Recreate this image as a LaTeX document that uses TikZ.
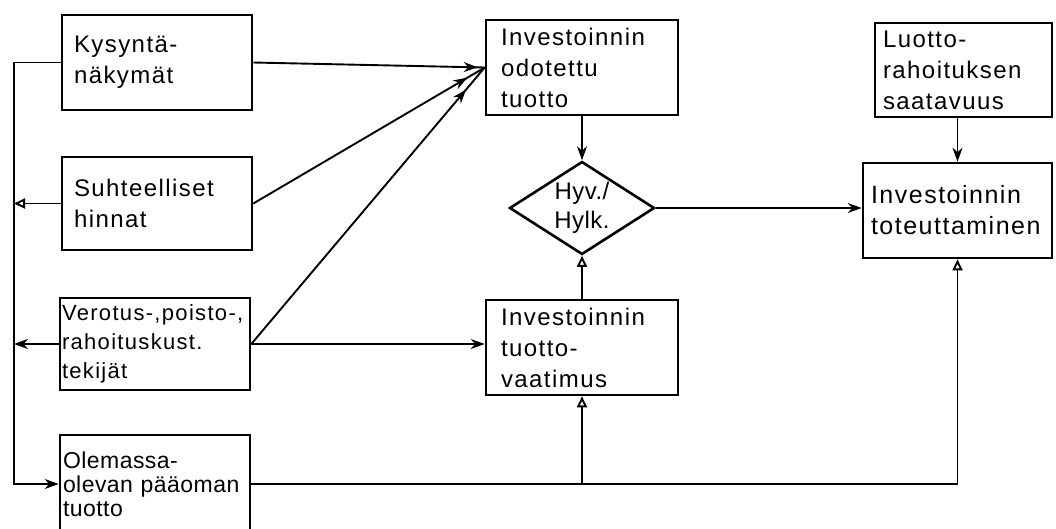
\documentclass[tikz,border=0pt]{standalone}
\usepackage{fontspec}
\newfontfamily\lab[LetterSpace=6]{Liberation Sans}
\newfontfamily\labn[LetterSpace=2]{Liberation Sans}
\usetikzlibrary{arrows.meta,shapes.geometric,decorations.markings}

\begin{document}
\begin{tikzpicture}[x=1pt,y=-1pt,>={Stealth[length=14pt,width=10pt]},
    box/.style={draw,rectangle,line width=2.6pt,inner xsep=12pt,inner ysep=0pt,
      minimum height=95pt,text width=166pt,align=left,
      font=\lab\fontsize{24}{31}\selectfont},
    link/.style={line width=1.9pt},
    open/.style={-{Triangle[open,length=11pt,width=10pt]}},
    tipat/.style={postaction={decorate},decoration={markings,
      mark=at position #1 with {\arrow{>}}}}]

  \clip (0,0) rectangle (1056,528);

  % left column
  \node[box] (kys) at (157,62.5) {Kysyntä-\\näkymät};
  \node[box,minimum height=93pt] (sut) at (157,203.5) {Suhteelliset\\hinnat};
  \node[box,minimum height=92pt,inner xsep=2pt,text width=186pt,
        font=\lab\fontsize{22}{29}\selectfont] (ver) at (155,344)
        {Verotus-,poisto-,\\rahoituskust.\\tekijät};
  \node[box,minimum height=98pt,inner xsep=3pt,text width=184pt,
        font=\labn\fontsize{23}{24}\selectfont] (olem) at (155,484)
        {Olemassa-\\olevan pääoman\\tuotto};

  % middle column
  \node[box,inner xsep=15pt,text width=162pt] (odo) at (582,67.5)
        {Investoinnin\\odotettu\\tuotto};
  \node[draw,diamond,line width=2.6pt,aspect=1.56,minimum width=145pt,
        minimum height=93pt,inner sep=0pt,align=center,
        font=\labn\fontsize{24}{29}\selectfont] (dia) at (582,208) {Hyv./\\Hylk.};
  \node[box,inner xsep=15pt,text width=162pt] (vaat) at (582,347.5)
        {Investoinnin\\tuotto-\\vaatimus};

  % right column
  \node[box,minimum height=94pt,inner xsep=8pt,text width=161pt] (luo) at (963.5,70)
        {Luotto-\\rahoituksen\\saatavuus};
  \node[box,inner xsep=8pt,text width=173pt,
        font=\lab\fontsize{25}{31}\selectfont] (tot) at (957.5,210.5)
        {Investoinnin\\toteuttaminen};

  \coordinate (lft) at (14,62.5);
  \coordinate (conv) at (odo.west);

  % feedback line on the left
  \draw[->,link] (kys.west) -- (lft) |- (olem.west);
  \draw[open,link] (sut.west) -- (sut.west -| lft);
  \draw[->,link] (ver.west) -- (ver.west -| lft);

  % inputs to expected return
  \draw[link,tipat=0.97] (kys.east) -- (conv);
  \draw[link,tipat=0.925] (sut.east) -- (conv);
  \draw[link,tipat=0.92] (ver.east) -- (conv);

  \draw[->,link] (ver.east) -- (ver.east -| vaat.west);
  \draw[->,link] (odo.south) -- (dia.north);
  \draw[open,link] (vaat.north) -- (dia.south);
  \draw[->,link] (dia.east) -- (dia.east -| tot.west);
  \draw[->,link] (luo.south -| tot.north) -- (tot.north);
  \draw[open,link] (olem.east) -| (tot.south);
  \draw[open,link] (olem.east -| vaat.south) -- (vaat.south);
\end{tikzpicture}
\end{document}
